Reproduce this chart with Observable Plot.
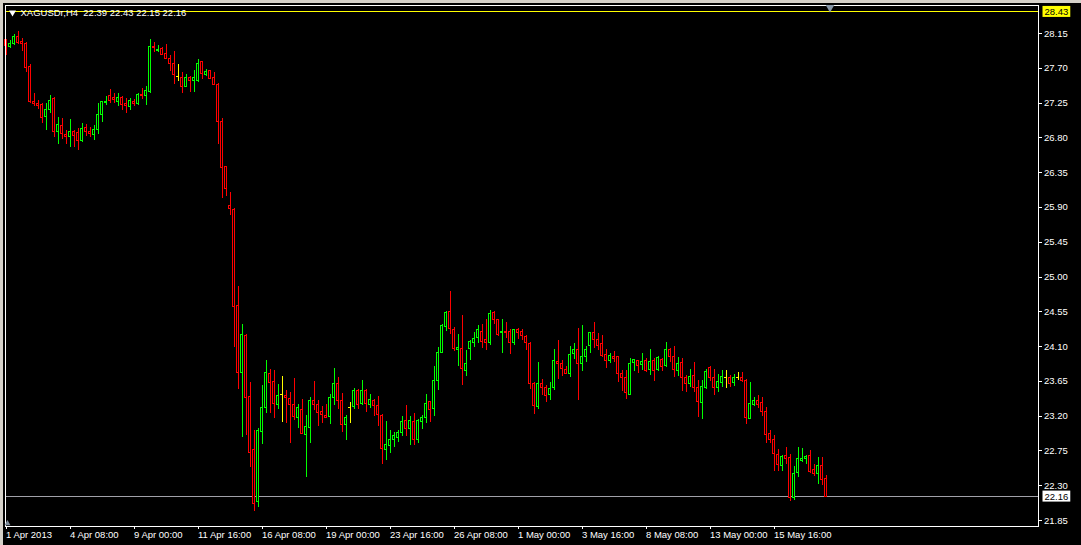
<!DOCTYPE html>
<html>
<head>
<meta charset="utf-8">
<script src="https://cdn.jsdelivr.net/npm/d3@7"></script>
<script src="https://cdn.jsdelivr.net/npm/@observablehq/plot@0.6"></script>
<style>
html, body { margin: 0; padding: 0; background: #000; }
#wrap { position: relative; width: 1081px; height: 545px; overflow: hidden; }
.edge { position: absolute; background: #d4d0c8; }
</style>
</head>
<body>
<div id="wrap">
  <div class="edge" style="left:0;top:0;width:1081px;height:3px"></div>
  <div class="edge" style="left:0;top:0;width:3px;height:545px"></div>
</div>
<script>
// XAGUSDr H4 candles (index 0 = first visible bar)
const open = [28.06,27.97,28.01,28.11,28.04,28.02,27.72,27.27,27.24,27.22,27.07,27.16,27.30,26.87,26.96,26.84,26.81,26.87,26.86,26.76,
26.93,26.87,26.84,26.90,27.09,27.25,27.34,27.31,27.27,27.31,27.24,27.20,27.27,27.24,27.36,27.34,27.39,27.98,27.92,27.95,
27.88,27.82,27.76,27.60,27.58,27.46,27.58,27.53,27.54,27.78,27.61,27.66,27.58,27.49,27.00,26.42,25.92,25.87,24.63,23.76,
24.24,23.45,22.76,22.09,22.99,23.30,23.75,23.64,23.34,23.48,23.46,23.42,23.35,23.18,23.28,22.95,23.05,23.39,23.35,23.26,
23.20,23.19,23.44,23.61,23.39,23.08,23.31,23.32,23.53,23.36,23.53,23.35,23.40,23.33,23.20,22.76,22.82,22.89,22.92,22.98,
23.14,23.03,23.13,22.89,23.12,23.17,23.38,23.29,23.65,24.02,24.35,24.55,24.32,24.05,24.07,23.79,24.07,24.14,24.21,24.29,
24.18,24.15,24.54,24.44,24.27,24.29,24.29,24.15,24.31,24.29,24.23,24.13,23.61,23.32,23.61,23.57,23.47,23.57,23.90,23.88,
23.80,23.75,24.01,24.06,23.88,23.96,24.11,24.28,24.18,24.13,23.99,23.91,23.97,23.96,23.75,23.70,23.48,23.89,23.92,23.86,
23.91,23.80,23.92,23.80,23.93,23.85,24.06,23.97,23.78,23.89,23.70,23.61,23.72,23.57,23.37,23.57,23.82,23.69,23.57,23.63,
23.70,23.70,23.63,23.70,23.70,23.65,23.16,23.35,23.39,23.37,23.26,22.97,22.89,22.70,22.56,22.68,22.66,22.14,22.46,22.62,
22.64,22.69,22.50,22.45,22.55,22.39];
const high = [28.07,28.06,28.14,28.17,28.09,28.03,27.75,27.38,27.28,27.25,27.25,27.35,27.32,27.07,27.05,26.90,27.04,26.90,26.92,26.99,
26.97,26.94,26.96,27.25,27.27,27.34,27.43,27.38,27.38,27.33,27.31,27.31,27.30,27.37,27.44,27.47,28.07,28.04,27.99,27.97,
28.01,27.86,27.92,27.75,27.64,27.62,27.59,27.67,27.82,27.79,27.68,27.66,27.64,27.50,27.05,26.43,26.09,25.89,24.88,24.39,
24.25,23.64,23.01,23.04,23.60,23.92,23.81,23.79,23.61,23.71,23.53,23.51,23.69,23.35,23.42,23.21,23.44,23.65,23.40,23.32,
23.35,23.48,23.82,23.70,23.49,23.21,23.38,23.56,23.55,23.66,23.55,23.48,23.42,23.45,23.22,23.13,23.01,22.99,23.01,23.19,
23.34,23.20,23.23,23.16,23.21,23.48,23.39,23.84,24.09,24.39,24.55,24.81,24.35,24.26,24.50,24.05,24.18,24.28,24.37,24.39,
24.45,24.57,24.56,24.45,24.45,24.41,24.32,24.32,24.34,24.32,24.24,24.15,23.64,23.89,23.68,23.60,23.63,24.06,24.18,23.92,
23.84,24.10,24.14,24.33,24.37,24.10,24.28,24.41,24.27,24.24,24.06,24.01,24.04,23.97,23.79,23.79,23.94,23.93,23.92,24.01,
23.94,24.06,23.94,23.97,23.94,24.15,24.07,24.10,23.96,23.94,23.73,23.80,23.89,23.66,23.66,23.80,23.84,23.81,23.74,23.79,
23.79,23.72,23.74,23.77,23.76,23.68,23.64,23.44,23.47,23.44,23.31,23.01,22.95,22.77,22.69,22.79,22.70,22.55,22.79,22.78,
22.69,22.76,22.58,22.67,22.67,22.43];
const low = [27.87,27.96,27.99,28.01,27.92,27.64,27.25,27.20,27.17,26.99,26.90,27.11,26.81,26.71,26.78,26.71,26.67,26.68,26.64,26.74,
26.82,26.80,26.77,26.85,27.00,27.22,27.25,27.24,27.21,27.15,27.12,27.15,27.21,27.22,27.30,27.22,27.37,27.91,27.91,27.86,
27.81,27.66,27.49,27.53,27.38,27.45,27.39,27.39,27.52,27.56,27.59,27.55,27.48,26.71,26.02,26.04,25.80,24.09,23.55,22.93,
22.95,22.53,21.97,22.02,22.83,23.23,23.23,23.17,23.29,23.12,23.11,22.84,23.14,23.04,22.96,22.41,22.85,23.27,23.07,23.10,
23.17,23.09,23.34,23.29,22.99,22.89,23.10,23.29,23.29,23.34,23.25,23.30,23.19,23.07,22.58,22.62,22.72,22.80,22.86,22.94,
22.94,22.82,22.82,22.84,23.03,23.11,23.12,23.20,23.53,24.01,24.30,24.26,24.03,23.84,23.60,23.71,23.92,24.09,24.14,24.08,
24.05,24.11,24.38,24.23,24.01,24.20,24.00,24.11,24.19,24.18,24.05,23.54,23.22,23.29,23.47,23.38,23.40,23.53,23.68,23.71,
23.74,23.70,23.93,23.40,23.78,23.89,24.01,24.08,24.05,23.96,23.82,23.88,23.90,23.63,23.52,23.41,23.47,23.78,23.75,23.79,
23.76,23.72,23.65,23.78,23.78,23.83,23.90,23.70,23.71,23.52,23.50,23.57,23.51,23.18,23.16,23.55,23.65,23.47,23.50,23.57,
23.56,23.57,23.59,23.66,23.63,23.09,23.16,23.32,23.30,23.20,22.85,22.84,22.48,22.48,22.49,22.58,22.09,22.11,22.40,22.60,
22.57,22.46,22.42,22.32,22.30,22.15];
const close = [27.99,28.01,28.11,28.03,28.02,27.71,27.26,27.24,27.21,27.06,27.16,27.28,26.87,26.97,26.85,26.81,26.87,26.83,26.76,26.91,
26.87,26.85,26.90,27.10,27.26,27.27,27.28,27.29,27.32,27.23,27.21,27.28,27.24,27.36,27.34,27.40,27.98,27.96,27.94,27.87,
27.82,27.76,27.61,27.60,27.46,27.57,27.53,27.57,27.76,27.62,27.65,27.56,27.49,27.01,26.41,26.14,25.88,24.61,23.76,24.25,
23.44,22.72,22.07,23.01,23.30,23.76,23.63,23.36,23.46,23.48,23.43,23.34,23.19,23.30,22.97,23.06,23.39,23.34,23.24,23.22,
23.18,23.44,23.61,23.39,23.08,23.17,23.31,23.52,23.35,23.52,23.36,23.41,23.33,23.21,22.77,22.83,22.89,22.94,22.98,23.13,
23.04,23.14,22.89,23.14,23.18,23.36,23.28,23.66,24.02,24.37,24.54,24.33,24.07,24.08,23.81,23.88,24.16,24.20,24.31,24.16,
24.14,24.52,24.45,24.25,24.29,24.27,24.14,24.31,24.27,24.24,24.14,23.61,23.33,23.61,23.57,23.46,23.55,23.92,23.88,23.81,
23.75,23.99,24.06,23.88,23.96,24.06,24.28,24.19,24.11,23.98,23.92,23.98,23.94,23.75,23.70,23.50,23.88,23.93,23.85,23.90,
23.78,23.90,23.78,23.95,23.83,24.05,23.96,23.80,23.88,23.70,23.61,23.71,23.57,23.38,23.58,23.77,23.70,23.57,23.64,23.71,
23.70,23.62,23.70,23.70,23.65,23.17,23.36,23.39,23.35,23.26,22.96,22.89,22.71,22.57,22.67,22.64,22.14,22.45,22.64,22.65,
22.67,22.48,22.45,22.55,22.38,22.16];

// time axis labels every 16 bars
const tickIndex = [0, 16, 32, 48, 64, 80, 96, 112, 128, 144, 160, 176, 192];
const tickLabels = ["1 Apr 2013", "4 Apr 08:00", "9 Apr 00:00", "11 Apr 16:00", "16 Apr 08:00", "19 Apr 00:00",
  "23 Apr 16:00", "26 Apr 08:00", "1 May 00:00", "3 May 16:00", "8 May 08:00", "13 May 00:00", "15 May 16:00"];
const priceTicks = [28.15, 27.70, 27.25, 26.80, 26.35, 25.90, 25.45, 25.00, 24.55, 24.10, 23.65, 23.20, 22.75, 22.30, 21.85];
const symbolName = "XAGUSDr";
const period = "H4";
const levelLine = 28.43;
const bidLine = 22.16;

const UP = "#00ff00", DOWN = "#ff0000", DOJI = "#ffff00";
const bars = open.map((o, i) => ({
  i, o, h: high[i], l: low[i], c: close[i],
  color: close[i] > o ? UP : close[i] < o ? DOWN : DOJI
}));
const last = bars[bars.length - 1];
const fmt = d3.format(".2f");
const header = `${symbolName},${period}\u00a0\u00a0${fmt(last.o)} ${fmt(last.h)} ${fmt(last.l)} ${fmt(last.c)}`;

const chart = Plot.plot({
  width: 1081,
  height: 545,
  marginLeft: 4.5,
  marginRight: 43.5,
  marginTop: 4.5,
  marginBottom: 19.5,
  style: { background: "#000", color: "#fff", fontFamily: "'Liberation Sans', Arial, sans-serif", fontSize: "9.5px", overflow: "visible" },
  color: { type: "identity" },
  x: { type: "linear", domain: [-0.25, 258], axis: null, label: null },
  y: { domain: [21.779, 28.519], axis: null, label: null },
  marks: [
    Plot.ruleY([levelLine], { stroke: DOJI, shapeRendering: "crispEdges" }),
    Plot.ruleY([bidLine], { stroke: "#a0a0a8", shapeRendering: "crispEdges" }),
    Plot.ruleX(bars, { x: "i", y1: "l", y2: "h", stroke: "color", shapeRendering: "crispEdges" }),
    Plot.rect(bars.filter(d => d.o !== d.c), {
      x1: d => d.i - 0.25, x2: d => d.i + 0.25, y1: "o", y2: "c",
      fill: "#000", stroke: "color", shapeRendering: "crispEdges"
    }),
    Plot.ruleY(bars.filter(d => d.o === d.c), {
      y: "o", x1: d => d.i - 0.375, x2: d => d.i + 0.375, stroke: "color", shapeRendering: "crispEdges"
    }),
    Plot.frame({ stroke: "#fff", shapeRendering: "crispEdges" }),
    Plot.axisY(priceTicks, {
      anchor: "right", tickSize: 3, tickPadding: 3, tickFormat: fmt, label: null,
      shapeRendering: "crispEdges"
    }),
    Plot.axisX(tickIndex, {
      anchor: "bottom", tickSize: 3, tickPadding: 2, label: null,
      tickFormat: d => tickLabels[tickIndex.indexOf(d)], textAnchor: "start",
      shapeRendering: "crispEdges"
    }),
    Plot.text([levelLine, bidLine], {
      y: d => d, frameAnchor: "right", dx: 6.5, textAnchor: "start", lineAnchor: "middle",
      text: d => fmt(d), fill: "#000"
    }),
    Plot.text([header], {
      frameAnchor: "top-left", dx: 15.5, dy: 8, textAnchor: "start", lineAnchor: "middle", text: d => d, fill: "#fff"
    }),
    Plot.dot([header], {
      frameAnchor: "top-left", dx: 7.5, dy: 7.5, symbol: "triangle", rotate: 180, r: 2.6, fill: "#fff", stroke: null
    }),
    Plot.dot([last], {
      x: d => d.i + 1, frameAnchor: "top", dy: 2.5, symbol: "triangle", rotate: 180, r: 3.2, fill: "#8797a8", stroke: null
    }),
    Plot.dot([last], {
      frameAnchor: "bottom-left", dx: 2.5, dy: -2.5, symbol: "triangle", r: 2.2, fill: "#7e8c9c", stroke: null
    })
  ]
});

document.getElementById("wrap").append(chart);
const svg = chart.tagName.toLowerCase() === "svg" ? chart : chart.querySelector("svg");
const boxColors = new Map([[fmt(levelLine), "#ffff00"], [fmt(bidLine), "#ffffff"]]);
svg.querySelectorAll("text").forEach(t => {
  const bg = boxColors.get(t.textContent.trim());
  if (!bg || t.getAttribute("fill") !== "#000" && !t.closest('[fill="#000"]')) return;
  const b = t.getBBox();
  const r = document.createElementNS("http://www.w3.org/2000/svg", "rect");
  r.setAttribute("x", b.x - 2);
  r.setAttribute("y", b.y);
  r.setAttribute("width", b.width + 4);
  r.setAttribute("height", b.height);
  r.setAttribute("fill", bg);
  const tr = t.getAttribute("transform");
  if (tr) r.setAttribute("transform", tr);
  t.parentNode.insertBefore(r, t);
});
</script>
</body>
</html>
